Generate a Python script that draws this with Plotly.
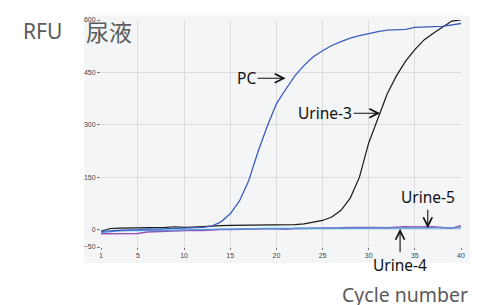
import plotly.graph_objects as go

cycles = list(range(1, 41))

pc = [-5, -3, -2, -1, 0, 2, 1, 2, 3, 3, 4, 6, 10, 22, 45, 82, 140, 222, 295, 360,
      401, 440, 470, 495, 512, 527, 538, 548, 555, 562, 567, 571, 573, 573, 579, 581, 581, 582, 585, 590]

urine3 = [-5, 3, 4, 4, 4, 5, 5, 6, 8, 6, 7, 9, 10, 11, 12, 12, 13, 14, 13, 12,
          13, 14, 16, 20, 26, 36, 55, 90, 150, 248, 320, 388, 440, 482, 515, 543, 562, 580, 597, 600]

urine5 = [-12, -12, -12, -12, -11, -7, -6, -5, -4, -2, -2, -3, -1, 0, 0, 1, 2, 2, 2, 2,
          1, 3, 3, 4, 4, 4, 5, 6, 6, 8, 6, 5, 7, 8, 7, 8, 8, 6, 4, 11]

urine4 = [-9, -6, -4, -3, -3, -3, -4, -3, -2, -1, 0, 0, 1, 1, 1, 2, 2, 2, 3, 3,
          3, 3, 3, 4, 4, 4, 4, 4, 4, 5, 5, 4, 4, 5, 5, 5, 5, 5, 3, 5]

x_ticks = [1, 5, 10, 15, 20, 25, 30, 35, 40]
y_ticks = [-50, 0, 150, 300, 450, 600]

BG = "#f4f5f7"
GRID = "#dcdcdc"

W, H = 477, 305
ML, MR, MT, MB = 101, 14, 20, 58

fig = go.Figure()
fig.add_trace(go.Scatter(x=cycles, y=urine5, mode="lines", line=dict(color="#a04db8", width=1.5)))
fig.add_trace(go.Scatter(x=cycles, y=urine4, mode="lines", line=dict(color="#4a9ee0", width=1.3)))
fig.add_trace(go.Scatter(x=cycles, y=urine3, mode="lines", line=dict(color="#1a1a1a", width=1.2)))
fig.add_trace(go.Scatter(x=cycles, y=pc, mode="lines", line=dict(color="#3a5dbf", width=1.3)))

ann_font = dict(family="Noto Sans, Open Sans, sans-serif", size=15.5, color="#111")
arrow = dict(showarrow=True, arrowhead=5, arrowsize=1.6, arrowwidth=1.1, arrowcolor="#111",
             xref="x", yref="y", font=ann_font)

fig.update_layout(
    width=W, height=H,
    margin=dict(l=ML, r=MR, t=MT, b=MB),
    paper_bgcolor="white",
    plot_bgcolor=BG,
    showlegend=False,
    xaxis=dict(range=[1, 40], tickvals=x_ticks, showgrid=True, gridcolor=GRID, gridwidth=1,
               zeroline=False, ticks="outside", ticklen=2, tickcolor="#777",
               tickfont=dict(family="Liberation Sans, Arial", size=7, color="#444"),
               showline=False),
    yaxis=dict(range=[-50, 600], tickvals=y_ticks, showgrid=True, gridcolor=GRID, gridwidth=1,
               zeroline=False, ticks="outside", ticklen=3, tickcolor="#777",
               tickfont=dict(family="Liberation Sans, Arial", size=7, color="#444"),
               showline=False),
    shapes=[dict(type="rect", xref="paper", yref="paper", x0=-0.047, x1=1.025, y0=-0.07, y1=1.02,
                 fillcolor=BG, line=dict(width=0), layer="below")],
    annotations=[
        dict(x=21.0, y=433, ax=-39, ay=0, text="PC", **arrow),
        dict(x=31.25, y=333, ax=-55, ay=0, text="Urine-3", **arrow),
        dict(x=36.4, y=4, ax=0, ay=-31, text="Urine-5", **arrow),
        dict(x=33.4, y=2, ax=0, ay=36, text="Urine-4", **arrow),
    ],
)

pw = W - ML - MR
ph = H - MT - MB
def px2paper(px, py):
    return (px - ML) / pw, (H - MB - py) / ph

for txt, (px, py), fam, size in [
    ("RFU", (42, 31), "Noto Sans, sans-serif", 21),
    ("尿液", (109, 31), "Noto Sans CJK SC, sans-serif", 23),
    ("Cycle number", (407, 294), "Noto Sans, sans-serif", 19.5),
]:
    xp, yp = px2paper(px, py)
    fig.add_annotation(x=xp, y=yp, xref="paper", yref="paper", text=txt, showarrow=False,
                       xanchor="center", yanchor="middle",
                       font=dict(family=fam, size=size, color="#5a5a5a"))

fig.write_html("out.html", config={"displayModeBar": False},
               post_script="document.body.style.margin='0';document.body.style.overflow='hidden';")
